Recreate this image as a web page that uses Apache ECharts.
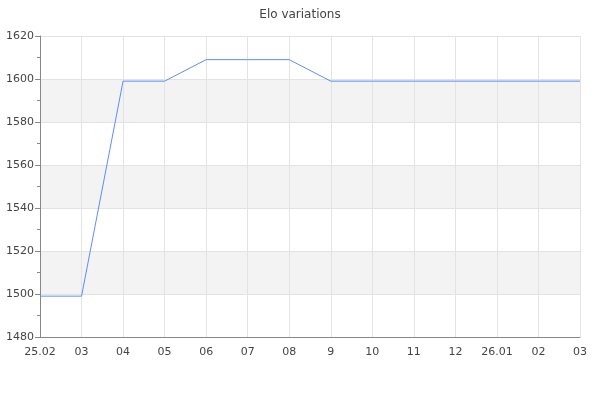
<!DOCTYPE html>
<html><head><meta charset="utf-8">
<script src="https://cdn.jsdelivr.net/npm/echarts@6/dist/echarts.min.js"></script>
<style>html,body{margin:0;padding:0;background:#fff}#c{width:600px;height:400px}</style>
</head><body><div id="c"></div>
<script>
const categories = ['25.02','03','04','05','06','07','08','9','10','11','12','26.01','02','03'];
const eloValues = [1499,1499,1599,1599,1609,1609,1609,1599,1599,1599,1599,1599,1599,1599];
const yMin = 1480, yMax = 1620, yStep = 20;

const chart = echarts.init(document.getElementById('c'), null, {renderer:'canvas'});
chart.setOption({
  animation:false,
  textStyle:{fontFamily:'DejaVu Sans'},
  title:{text:'Elo variations',left:'center',top:4,textStyle:{fontFamily:'DejaVu Sans',fontSize:12,fontWeight:'normal',color:'#444'}},
  grid:{left:40,right:20,top:36,bottom:63},
  xAxis:{type:'category',data:categories,boundaryGap:false,
    axisLine:{lineStyle:{color:'#888'}},axisTick:{show:false},
    axisLabel:{color:'#444',fontSize:11,margin:10,interval:0,fontFamily:'DejaVu Sans'},
    splitLine:{show:true,lineStyle:{color:'#e3e3e3'}}},
  yAxis:{type:'value',min:yMin,max:yMax,interval:yStep,
    axisLine:{show:true,lineStyle:{color:'#888'}},
    axisTick:{show:true,length:5,lineStyle:{color:'#888'}},
    minorTick:{show:true,splitNumber:2,length:3,lineStyle:{color:'#888'}},
    axisLabel:{color:'#444',fontSize:11,margin:6,fontFamily:'DejaVu Sans',formatter:v=>String(v)},
    splitLine:{show:true,lineStyle:{color:'#e3e3e3'}},
    splitArea:{show:true,areaStyle:{color:['rgba(255,255,255,0)','#f3f3f3']}}},
  series:[{type:'line',data:eloValues,showSymbol:false,symbol:'none',
    lineStyle:{color:'#5b8ff9',width:1}}]
});
</script></body></html>
